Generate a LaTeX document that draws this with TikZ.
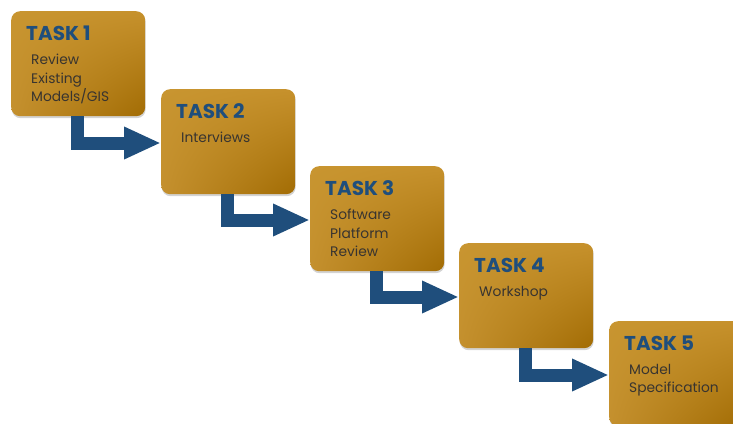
\documentclass[tikz,border=0pt]{standalone}
\usepackage{fontspec}
\setmainfont{Poppins}
\usetikzlibrary{calc,arrows.meta,shadings,shadows}
\definecolor{goldA}{HTML}{C89530}
\definecolor{goldB}{HTML}{C6912C}
\definecolor{goldC}{HTML}{C4902E}
\definecolor{goldD}{HTML}{A26C04}
\definecolor{taskblue}{HTML}{1F4E7C}
\definecolor{bodytext}{HTML}{383430}
\tikzset{
  taskbox/.style={rectangle, rounded corners=9pt, minimum width=134pt, minimum height=105pt,
    anchor=north west, inner sep=0pt,
    drop shadow={shadow xshift=0.5pt, shadow yshift=-2pt, opacity=0.35, fill=gray},
    upper left=goldA, upper right=goldB, lower left=goldC, lower right=goldD},
  tasktitle/.style={anchor=base west, inner sep=0pt, text=taskblue, font=\bfseries\fontsize{20}{20}\selectfont},
  taskbody/.style={anchor=north west, inner sep=0pt, text=bodytext, align=left,
    font=\fontsize{13.8}{18.5}\selectfont},
  flow/.style={draw=taskblue, line width=13pt, line join=miter,
    -{Triangle[length=37pt,width=30pt]}}
}
\begin{document}
\begin{tikzpicture}[x=1pt,y=-1pt]
\useasboundingbox (0,0) rectangle (733,423);
\clip (0,0) rectangle (733,423);
\node[taskbox] (t1) at (11,11) {};
\node[taskbox] (t2) at (161,89) {};
\node[taskbox] (t3) at (310,166) {};
\node[taskbox] (t4) at (459,243) {};
\node[taskbox] (t5) at (609,321) {};
\foreach \i/\txt in {1/{Review\\Existing\\Models/GIS},2/{Interviews},3/{Software\\Platform\\Review},4/{Workshop},5/{Model\\Specification}}{
  \node[tasktitle] (h\i) at ($(t\i.north west)+(15,29)$) {TASK \i};
  \node[taskbody] (b\i) at ($(t\i.north west)+(20,43)$) {\txt};
}
\foreach \i/\j in {1/2,2/3,3/4,4/5}{
  \coordinate (s\i) at ($(t\i.south west)+(66,0)$);
  \coordinate (e\i) at ($(t\j.north west)+(0,54)$);
  \draw[flow] (s\i) |- (e\i);
}
\end{tikzpicture}
\end{document}
